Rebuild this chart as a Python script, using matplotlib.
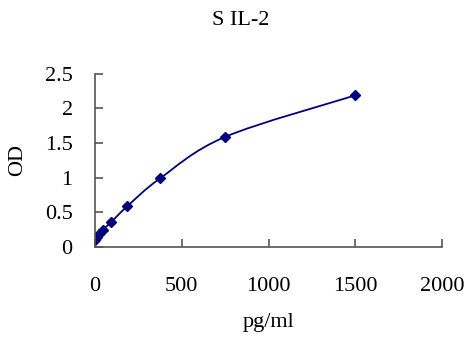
import matplotlib
matplotlib.use("Agg")
import matplotlib.pyplot as plt
from matplotlib.path import Path
from matplotlib.patches import PathPatch

# Data
conc = [0, 11.7, 23.4, 46.9, 93.75, 187.5, 375, 750, 1500]
od = [0.10, 0.14, 0.19, 0.25, 0.36, 0.59, 0.99, 1.59, 2.19]

plt.rcParams['font.family'] = ['Liberation Serif', 'DejaVu Serif']

fig = plt.figure(figsize=(4.77, 3.42), dpi=100)
ax = fig.add_axes([0.199, 0.278, 0.728, 0.506])

# smooth curve through points (bezier smoothing, like Excel)
verts = [(conc[0], od[0])]
codes = [Path.MOVETO]
n = len(conc)
for i in range(n - 1):
    p0 = (conc[max(i - 1, 0)], od[max(i - 1, 0)])
    p1 = (conc[i], od[i])
    p2 = (conc[i + 1], od[i + 1])
    p3 = (conc[min(i + 2, n - 1)], od[min(i + 2, n - 1)])
    c1 = (p1[0] + (p2[0] - p0[0]) / 6, p1[1] + (p2[1] - p0[1]) / 6)
    c2 = (p2[0] - (p3[0] - p1[0]) / 6, p2[1] - (p3[1] - p1[1]) / 6)
    verts += [c1, c2, p2]
    codes += [Path.CURVE4] * 3
ax.add_patch(PathPatch(Path(verts, codes), fill=False, edgecolor='#000080', lw=1.3))
ax.plot(conc, od, linestyle='none', marker='D', markersize=5, color='#000080')

ax.set_xlim(0, 2000)
ax.set_ylim(0, 2.5)
ax.set_xticks([0, 500, 1000, 1500, 2000])
ax.set_yticks([0, 0.5, 1, 1.5, 2, 2.5])
ax.set_yticklabels(['0', '0.5', '1', '1.5', '2', '2.5'])

for s in ['top', 'right']:
    ax.spines[s].set_visible(False)
for s in ['left', 'bottom']:
    ax.spines[s].set_color('#555555')
    ax.spines[s].set_linewidth(1.2)
ax.tick_params(axis='both', direction='in', length=6, width=1.2, color='#555555', labelsize=16)
ax.tick_params(axis='x', pad=22)
ax.tick_params(axis='y', pad=16)

fig.text(0.505, 0.94, 'S IL-2', fontsize=16, ha='center', va='center')
ax.set_xlabel('pg/ml', fontsize=16, labelpad=12)
ax.set_ylabel('OD', fontsize=16, labelpad=13)

fig.savefig('out.png', dpi=100)
